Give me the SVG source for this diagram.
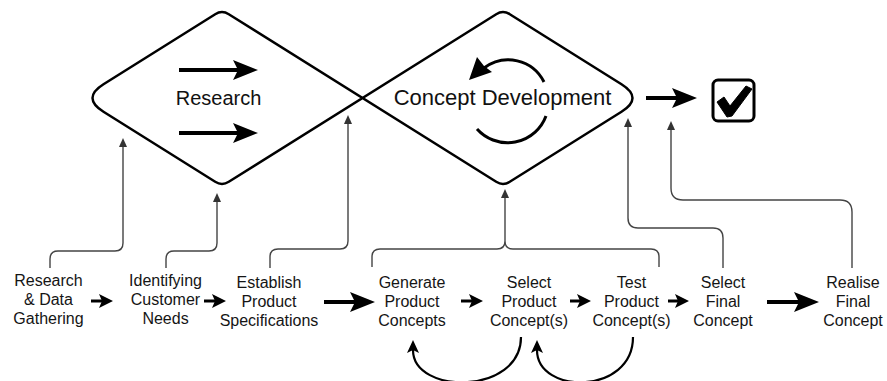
<svg xmlns="http://www.w3.org/2000/svg" width="887" height="381" viewBox="0 0 887 381">
  <style>
    .lbl { font-family: "Liberation Sans", Arial, sans-serif; font-size: 16px; fill: #151515; text-anchor: middle; }
    .big { font-family: "Liberation Sans", Arial, sans-serif; fill: #111; text-anchor: middle; }
    .conn { fill: none; stroke: #444; stroke-width: 1.4; marker-end: url(#thin); }
    .flow { fill: none; stroke: #000; stroke-width: 4; marker-end: url(#bigHead); }
    .step { fill: none; stroke: #000; stroke-width: 3; marker-end: url(#smallHead); }
    .loop { fill: none; stroke: #000; stroke-width: 2.2; marker-end: url(#loopHead); }
  </style>
  <defs>
    <marker id="bigHead" markerUnits="userSpaceOnUse" markerWidth="25" markerHeight="20" refX="5" refY="10" orient="auto">
      <path d="M0,0 L25,10 L0,20 L5,10 Z" fill="#000"/>
    </marker>
    <marker id="smallHead" markerUnits="userSpaceOnUse" markerWidth="14" markerHeight="14" refX="3" refY="7" orient="auto">
      <path d="M0,0 L14,7 L0,14 L3,7 Z" fill="#000"/>
    </marker>
    <marker id="thin" markerUnits="userSpaceOnUse" markerWidth="9" markerHeight="8" refX="1" refY="4" orient="auto">
      <path d="M0,0 L9,4 L0,8 Z" fill="#333"/>
    </marker>
    <marker id="loopHead" markerUnits="userSpaceOnUse" markerWidth="13" markerHeight="12" refX="3" refY="6" orient="auto">
      <path d="M0,0 L13,6 L0,12 L3,6 Z" fill="#000"/>
    </marker>
  </defs>

  <!-- double diamond outline (the two diamonds cross in the middle) -->
  <g id="double-diamond">
    <path d="M103.5,84.2 L215.2,14.2 Q222,10 228.8,14.2 L496.2,181.8 Q503,186 509.8,181.8 L621.5,111.8 Q643.5,98 621.5,84.2 L509.8,14.2 Q503,10 496.2,14.2 L228.8,181.8 Q222,186 215.2,181.8 L103.5,111.8 Q81.5,98 103.5,84.2 Z"
          fill="none" stroke="#000" stroke-width="2.5" stroke-linejoin="round"/>
  </g>

  <g id="research">
    <path class="flow" d="M179,70 H238"/>
    <path class="flow" d="M179,133 H238"/>
    <text class="big" x="218.5" y="105" font-size="20">Research</text>
  </g>

  <g id="concept-development">
    <path d="M544,82 A40,40 0 0 0 484,68" fill="none" stroke="#000" stroke-width="3"/>
    <path d="M469,80 L477,57 L484,66 L492,72 Z" fill="#000"/>
    <path d="M546,116 A41,41 0 0 1 477,129" fill="none" stroke="#000" stroke-width="3"/>
    <text class="big" x="502.5" y="105" font-size="22">Concept Development</text>
  </g>

  <g id="done">
    <path class="flow" d="M646,98 H677"/>
    <rect x="713" y="80" width="41" height="41" rx="5" fill="#fff" stroke="#000" stroke-width="3"/>
    <path d="M717,102 L724,97 L730,106 L746,86 L752,89 L732,116 L727,117 Z" fill="#000" stroke="#000" stroke-width="1" stroke-linejoin="round"/>
  </g>

  <!-- process steps -->
  <g id="step-research-data">
    <text class="lbl" x="48.5" y="286">Research</text>
    <text class="lbl" x="48.5" y="305">&amp; Data</text>
    <text class="lbl" x="48.5" y="324">Gathering</text>
  </g>
  <g id="step-customer-needs">
    <text class="lbl" x="165.5" y="286">Identifying</text>
    <text class="lbl" x="165.5" y="305">Customer</text>
    <text class="lbl" x="165.5" y="324">Needs</text>
  </g>
  <g id="step-specifications">
    <text class="lbl" x="269" y="287.5">Establish</text>
    <text class="lbl" x="269" y="306.5">Product</text>
    <text class="lbl" x="269" y="325.5">Specifications</text>
  </g>
  <g id="step-generate">
    <text class="lbl" x="412" y="287.5">Generate</text>
    <text class="lbl" x="412" y="306.5">Product</text>
    <text class="lbl" x="412" y="325.5">Concepts</text>
  </g>
  <g id="step-select-concepts">
    <text class="lbl" x="529" y="287.5">Select</text>
    <text class="lbl" x="529" y="306.5">Product</text>
    <text class="lbl" x="529" y="325.5">Concept(s)</text>
  </g>
  <g id="step-test-concepts">
    <text class="lbl" x="631.5" y="287.5">Test</text>
    <text class="lbl" x="631.5" y="306.5">Product</text>
    <text class="lbl" x="631.5" y="325.5">Concept(s)</text>
  </g>
  <g id="step-select-final">
    <text class="lbl" x="723" y="287.5">Select</text>
    <text class="lbl" x="723" y="306.5">Final</text>
    <text class="lbl" x="723" y="325.5">Concept</text>
  </g>
  <g id="step-realise-final">
    <text class="lbl" x="853" y="287.5">Realise</text>
    <text class="lbl" x="853" y="306.5">Final</text>
    <text class="lbl" x="853" y="325.5">Concept</text>
  </g>

  <g id="connectors">
    <!-- step-to-step arrows -->
    <path class="step" d="M91,301 H102"/>
    <path class="step" d="M204,301 H215"/>
    <path class="flow" d="M324,302 H355"/>
    <path class="step" d="M461,301 H472"/>
    <path class="step" d="M570,301 H580"/>
    <path class="step" d="M668,301 H678"/>
    <path class="flow" d="M767,302 H799"/>

    <!-- links from steps up to the phases -->
    <path class="conn" d="M50,268 V259 Q50,251 58,251 H115 Q123,251 123,243 V146"/>
    <path class="conn" d="M166,268 V259 Q166,251 174,251 H209 Q217,251 217,243 V201"/>
    <path class="conn" d="M270,268 V257 Q270,249 278,249 H340 Q348,249 348,241 V123"/>
    <path fill="none" stroke="#444" stroke-width="1.4" d="M372,267 V257 Q372,249 380,249 H497 Q505,249 505,241 Q505,249 513,249 H651 Q659,249 659,257 V267"/>
    <path class="conn" d="M505,241 V197"/>
    <path class="conn" d="M723,268 V238 Q723,228 713,228 H638 Q628,228 628,218 V126"/>
    <path class="conn" d="M852,268 V212 Q852,200 840,200 H683 Q671,200 671,188 V129"/>

    <!-- iteration loops -->
    <path class="loop" d="M521,337 C521,395 413,395 413,350"/>
    <path class="loop" d="M633,337 C633,395 537,395 537,350"/>
  </g>
</svg>
